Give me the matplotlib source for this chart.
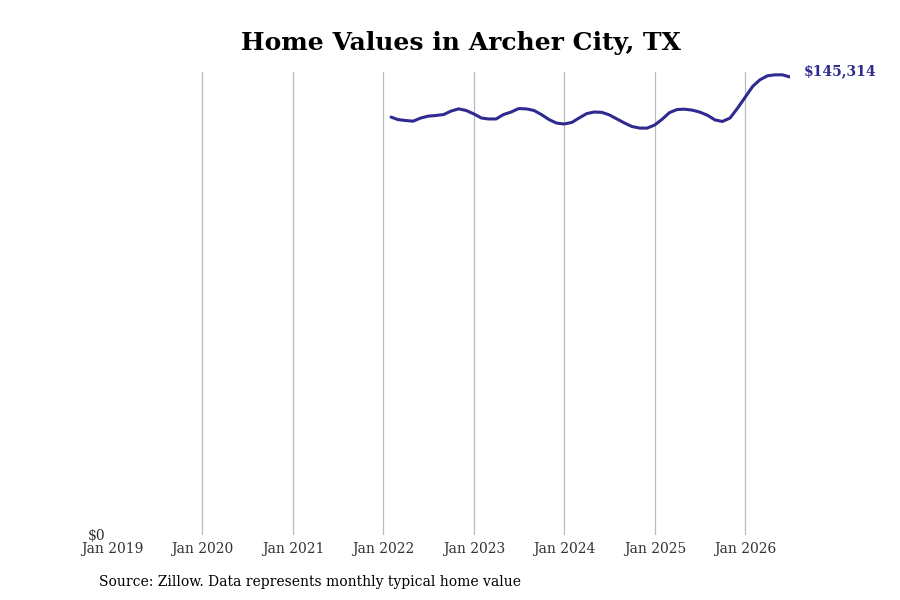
import matplotlib
matplotlib.use("Agg")
import matplotlib.pyplot as plt
import pandas as pd

plt.rcParams['font.family'] = ['DejaVu Serif']

dates = pd.date_range("2022-02-01", "2026-07-01", freq="MS")
# values (USD)
values = [
    132600, 131800, 131500, 131300, 132300, 132900, 133100, 133400, 134500, 135200, 134700,  # Feb-Dec 2022
    133600, 132300, 132000, 132000, 133400, 134200, 135300, 135200, 134700, 133400, 131800, 130700,  # 2023
    130400, 130900, 132300, 133700, 134200, 134100, 133300, 132000, 130700, 129600, 129100, 129100,  # 2024
    130100, 132000, 134000, 135000, 135100, 134800, 134200, 133200, 131700, 131200, 132300, 135400,  # 2025
    138900, 142400, 144400, 145700, 146000, 146000, 145314,  # Jan-Jul 2026
]
last_label = "$145,314"
line_color = "#2e2a8f"

fig = plt.figure(figsize=(9, 6), dpi=100)
ax = fig.add_axes([112/900, 1-535/600, (790-112)/900, (535-72)/600])

ax.plot(dates, values, color=line_color, lw=2.2, solid_capstyle='round')

ax.set_xlim(pd.Timestamp("2019-01-01"), dates[-1])
ax.set_ylim(0, 146900)

years = pd.date_range("2019-01-01", "2026-01-01", freq="YS")
ax.set_xticks(years)
ax.set_xticklabels([d.strftime("Jan %Y") for d in years], fontsize=10, color="#333333")
ax.set_yticks([0])
ax.set_yticklabels(["$0"], fontsize=10, color="#333333")
ax.tick_params(axis='both', length=0)
ax.tick_params(axis='x', pad=5)
ax.tick_params(axis='y', pad=5)

for s in ax.spines.values():
    s.set_visible(False)
# vertical gridlines at each January except the left edge
for d in years[1:]:
    ax.axvline(d, color="#bbbbbb", lw=0.9, zorder=0)

ax.annotate(last_label, xy=(dates[-1], values[-1]), xytext=(10, 4), textcoords='offset points',
            color=line_color, fontsize=10, fontweight='bold', va='center', ha='left',
            annotation_clip=False)

fig.text(461/900, 1-43/600, "Home Values in Archer City, TX", ha='center', va='center',
         fontsize=18, fontweight='bold', color='black')
fig.text(99/900, 1-582/600, "Source: Zillow. Data represents monthly typical home value",
         ha='left', va='center', fontsize=10, color='black')

fig.savefig("out.png", dpi=100)
